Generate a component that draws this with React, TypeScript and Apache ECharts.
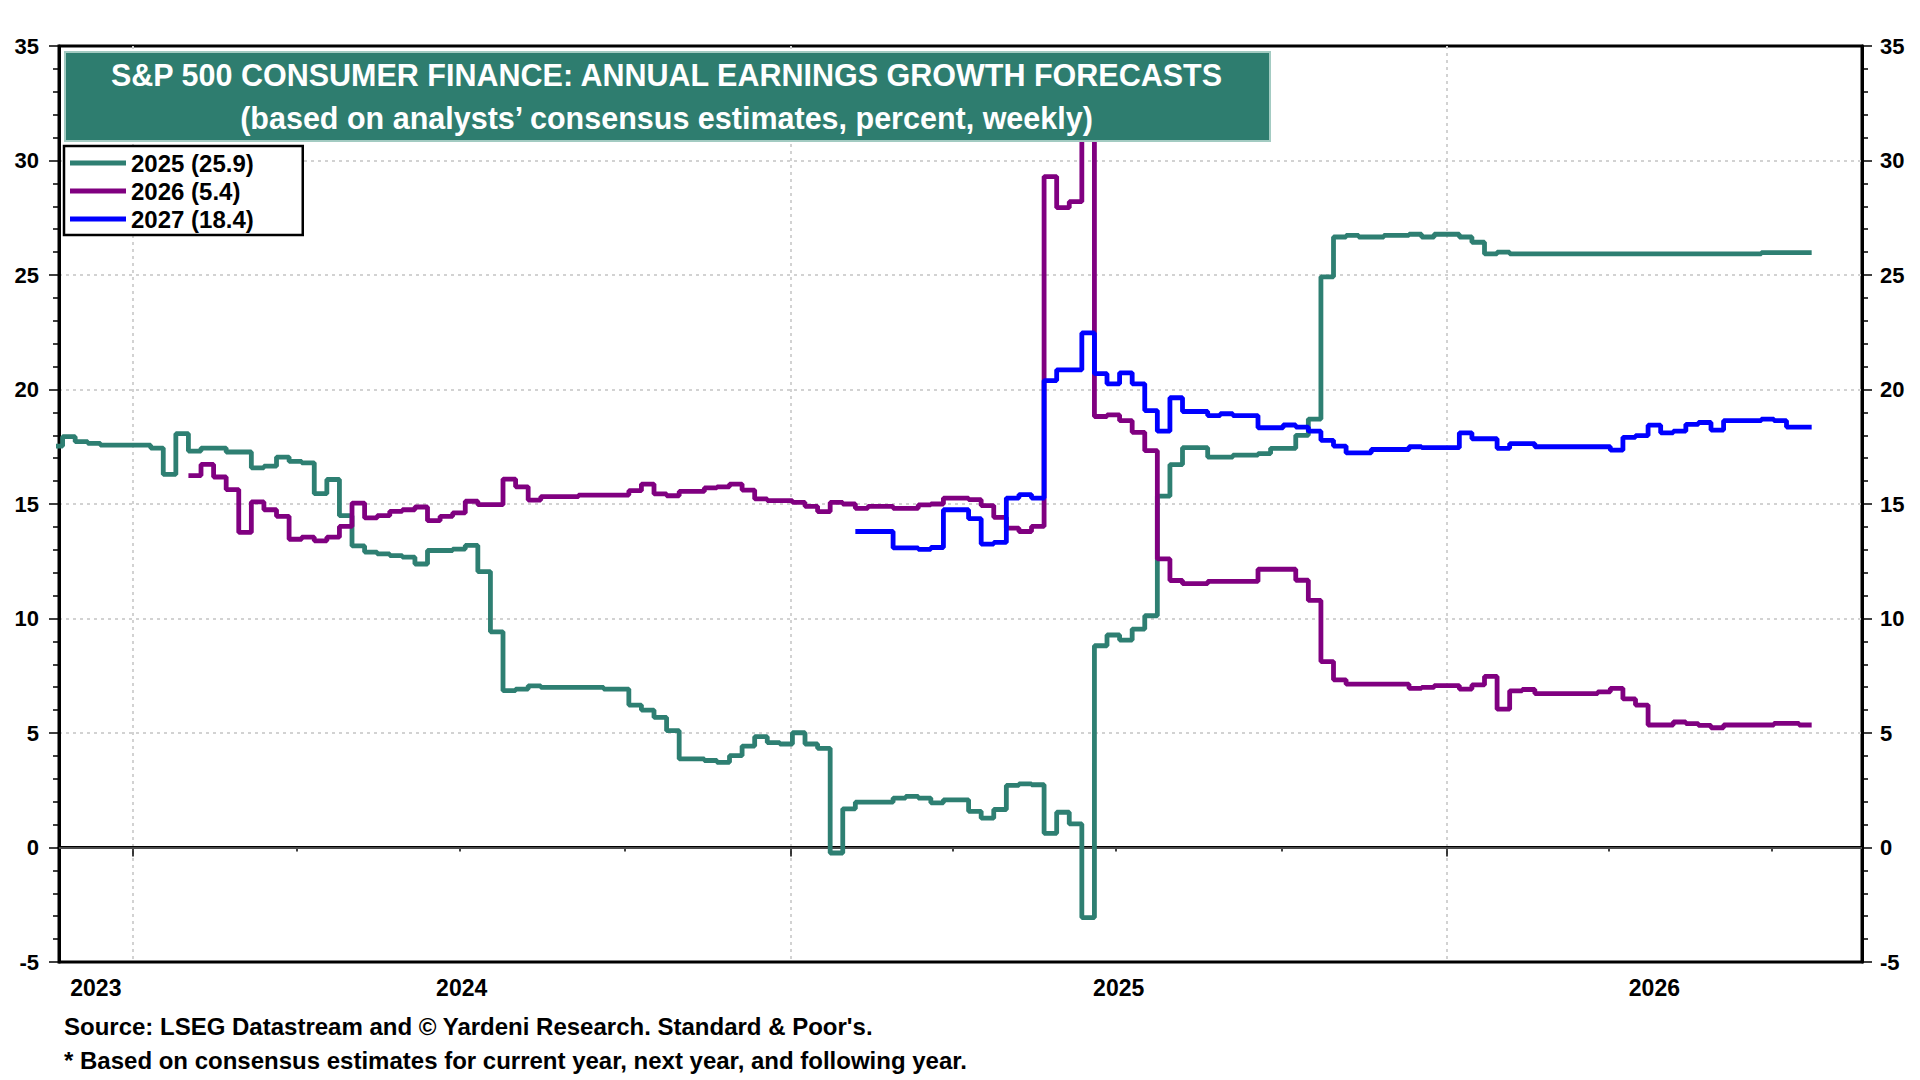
import React, { useEffect, useRef } from "react";
import * as echarts from "echarts";

// ---------- data (weekly, step values) ----------
const DAY = 86400000;
const WEEK = 7 * DAY;
const weekBase = Date.UTC(2024, 0, 4); // week 0 (Thursday)

const seriesNames = ["2025 (25.9)", "2026 (5.4)", "2027 (18.4)"];
const seriesColors = ["#2e7f72", "#800080", "#0000ff"];

const green2025StartWeek = -7;
const green2025 = [
  17.53, 17.94, 17.72, 17.65, 17.57, 17.57, 17.57, 17.57, 17.44, 16.29,
  18.07, 17.31, 17.44, 17.44, 17.27, 17.27, 16.58, 16.65, 17.05, 16.86,
  16.8, 15.45, 16.07, 14.49, 13.17, 12.9, 12.82, 12.75, 12.68, 12.38,
  12.97, 12.97, 13.03, 13.19, 12.05, 9.42, 6.85, 6.92, 7.06, 6.99,
  6.99, 6.99, 6.99, 6.99, 6.92, 6.92, 6.22, 6.0, 5.68, 5.1,
  3.87, 3.87, 3.8, 3.72, 4.01, 4.43, 4.84, 4.58, 4.52, 5.01,
  4.52, 4.33, -0.24, 1.69, 1.98, 1.98, 1.98, 2.16, 2.23, 2.16,
  1.95, 2.08, 2.08, 1.58, 1.28, 1.66, 2.71, 2.78, 2.74, 0.62,
  1.54, 1.03, -3.06, 8.81, 9.28, 9.06, 9.54, 10.12, 15.34, 16.72,
  17.46, 17.46, 17.05, 17.05, 17.13, 17.13, 17.2, 17.43, 17.43, 18.0,
  18.71, 24.92, 26.66, 26.73, 26.66, 26.66, 26.73, 26.73, 26.78, 26.66,
  26.78, 26.78, 26.66, 26.43, 25.92, 26.0, 25.92, 25.92, 25.92, 25.92,
  25.92, 25.92, 25.92, 25.92, 25.92, 25.92, 25.92, 25.92, 25.92, 25.92,
  25.92, 25.92, 25.92, 25.92, 25.92, 25.92, 25.98, 25.98, 25.98, 25.98,
  25.98,
];

const purple2026StartWeek = 4;
const purple2026 = [
  16.24, 16.73, 16.18, 15.63, 13.76, 15.09, 14.75, 14.46, 13.46, 13.55,
  13.39, 13.55, 14.02, 15.04, 14.39, 14.49, 14.68, 14.75, 14.87, 14.27,
  14.46, 14.61, 15.12, 14.97, 14.97, 16.09, 15.75, 15.17, 15.32, 15.32,
  15.32, 15.39, 15.39, 15.39, 15.39, 15.58, 15.87, 15.44, 15.36, 15.55,
  15.55, 15.7, 15.75, 15.87, 15.61, 15.22, 15.15, 15.15, 15.07, 14.9,
  14.67, 15.07, 15.0, 14.81, 14.9, 14.9, 14.81, 14.81, 14.96, 15.0,
  15.26, 15.26, 15.19, 14.93, 14.42, 13.95, 13.8, 14.02, 29.3, 27.94,
  28.2, 33.0, 18.82, 18.89, 18.64, 18.13, 17.33, 12.6, 11.66, 11.52,
  11.52, 11.62, 11.62, 11.62, 11.62, 12.15, 12.15, 12.15, 11.67, 10.79,
  8.12, 7.32, 7.13, 7.13, 7.13, 7.13, 7.13, 6.95, 6.99, 7.07,
  7.07, 6.92, 7.1, 7.47, 6.04, 6.84, 6.9, 6.72, 6.72, 6.72,
  6.72, 6.72, 6.8, 6.95, 6.49, 6.22, 5.35, 5.35, 5.48, 5.41,
  5.33, 5.23, 5.35, 5.35, 5.35, 5.35, 5.42, 5.42, 5.35, 5.35,
];

const blue2027StartWeek = 57;
const blue2027 = [
  13.8, 13.8, 13.8, 13.08, 13.08, 13.02, 13.1, 14.75, 14.75, 14.36,
  13.25, 13.32, 15.26, 15.41, 15.26, 20.39, 20.86, 20.86, 22.47, 20.69,
  20.25, 20.73, 20.25, 19.08, 18.18, 19.64, 19.04, 19.04, 18.86, 18.94,
  18.86, 18.86, 18.33, 18.33, 18.45, 18.36, 18.18, 17.78, 17.53, 17.23,
  17.23, 17.38, 17.38, 17.38, 17.5, 17.46, 17.46, 17.46, 18.11, 17.85,
  17.85, 17.43, 17.64, 17.64, 17.5, 17.5, 17.5, 17.5, 17.5, 17.5,
  17.35, 17.91, 17.99, 18.44, 18.11, 18.18, 18.48, 18.56, 18.23, 18.64,
  18.64, 18.64, 18.71, 18.64, 18.36, 18.36, 18.36,
];

// ---------- axes ----------
const axisMin = Date.UTC(2023, 10, 21);
const axisMax = Date.UTC(2026, 7, 20);
const yearStarts = [Date.UTC(2024, 0, 1), Date.UTC(2025, 0, 1), Date.UTC(2026, 0, 1)];
const quarterStarts = [
  Date.UTC(2024, 3, 1), Date.UTC(2024, 6, 1), Date.UTC(2024, 9, 1),
  Date.UTC(2025, 3, 1), Date.UTC(2025, 6, 1), Date.UTC(2025, 9, 1),
  Date.UTC(2026, 3, 1), Date.UTC(2026, 6, 1),
];
// year labels sit in the middle of the visible part of each year
const yearLabelPositions = [
  (axisMin + yearStarts[0]) / 2,
  (yearStarts[0] + yearStarts[1]) / 2,
  (yearStarts[1] + yearStarts[2]) / 2,
  (yearStarts[2] + axisMax) / 2,
];
const yMin = -5;
const yMax = 35;
const yInterval = 5;

const titleLines = [
  "S&P 500 CONSUMER FINANCE: ANNUAL EARNINGS GROWTH FORECASTS",
  "(based on analysts\u2019 consensus estimates, percent, weekly)",
];
const footnotes = [
  "Source: LSEG Datastream and \u00a9 Yardeni Research. Standard & Poor's.",
  "* Based on consensus estimates for current year, next year, and following year.",
];

const FONT = '"Liberation Sans", Arial, Helvetica, sans-serif';

function toData(startWeek: number, values: number[]) {
  return values.map((v, i) => [weekBase + (startWeek + i) * WEEK, v]);
}

function yAxisDef(position: "left" | "right", withSplit: boolean) {
  return {
    type: "value",
    position,
    min: yMin,
    max: yMax,
    interval: yInterval,
    axisLine: { show: true, lineStyle: { color: "#000", width: 3 } },
    axisTick: { show: true, inside: false, length: 10, lineStyle: { color: "#000", width: 1.5 } },
    minorTick: { show: true, splitNumber: 5, length: 6, lineStyle: { color: "#000", width: 1.5 } },
    axisLabel: {
      fontSize: 22,
      fontWeight: "bold",
      color: "#000",
      fontFamily: FONT,
      margin: position === "left" ? 20 : 18,
    },
    splitLine: {
      show: withSplit,
      showMinLine: false,
      showMaxLine: false,
      lineStyle: { color: "#d2d2d2", width: 2, type: [3, 4] },
    },
  };
}

function textEl(text: string, x: number, y: number, size: number, fill: string, align: string) {
  return {
    type: "text",
    z: 11,
    x,
    y,
    style: {
      text,
      fill,
      font: `bold ${size}px ${FONT}`,
      textAlign: align,
      textVerticalAlign: "middle",
      align,
      verticalAlign: "middle",
    },
  };
}

export default function App() {
  const ref = useRef<HTMLDivElement>(null);

  useEffect(() => {
    if (!ref.current) return;
    const chart = echarts.init(ref.current, undefined, { renderer: "svg" });
    const seriesData = [
      toData(green2025StartWeek, green2025),
      toData(purple2026StartWeek, purple2026),
      toData(blue2027StartWeek, blue2027),
    ];

    const option: any = {
      animation: false,
      backgroundColor: "#fff",
      textStyle: { fontFamily: FONT },
      grid: {
        left: 59,
        right: 58,
        top: 46,
        bottom: 118,
        show: true,
        borderColor: "#000",
        borderWidth: 3,
        backgroundColor: "transparent",
      },
      legend: {
        orient: "vertical",
        left: 64,
        top: 146,
        data: seriesNames,
        icon: "rect",
        itemWidth: 56,
        itemHeight: 5,
        itemGap: 4,
        itemTextGap: 11,
        padding: [5, 49, 4, 6],
        backgroundColor: "#fff",
        borderColor: "#000",
        borderWidth: 2.5,
        selectedMode: false,
        textStyle: { fontSize: 24, fontWeight: "bold", color: "#000", fontFamily: FONT },
      },
      xAxis: [
        {
          type: "value",
          min: axisMin,
          max: axisMax,
          position: "bottom",
          axisLine: { show: true, lineStyle: { color: "#000", width: 3 } },
          axisTick: {
            show: true,
            inside: false,
            customValues: quarterStarts,
            length: 4,
            lineStyle: { color: "#000", width: 1.5 },
          },
          splitLine: { show: false },
          axisLabel: {
            show: true,
            customValues: yearLabelPositions,
            formatter: (v: number) => String(new Date(v).getUTCFullYear()),
            fontSize: 23,
            fontWeight: "bold",
            color: "#000",
            fontFamily: FONT,
            margin: 14,
          },
        },
        {
          type: "value",
          min: axisMin,
          max: axisMax,
          position: "bottom",
          axisLine: { show: false },
          axisTick: {
            show: true,
            inside: false,
            customValues: yearStarts,
            length: 9,
            lineStyle: { color: "#000", width: 1.5 },
          },
          splitLine: { show: true, lineStyle: { color: "#d2d2d2", width: 2, type: [3, 4] } },
          axisLabel: { show: false },
        },
      ],
      yAxis: [yAxisDef("left", true), yAxisDef("right", false)],
      series: seriesNames.map((name, i) => ({
        name,
        type: "line",
        xAxisIndex: 0,
        yAxisIndex: 0,
        step: "end",
        showSymbol: false,
        symbol: "none",
        clip: true,
        data: seriesData[i],
        lineStyle: { color: seriesColors[i], width: 4.8 },
        itemStyle: { color: seriesColors[i] },
        emphasis: { disabled: true },
        z: 2 + i,
        markLine:
          i === 0
            ? {
                silent: true,
                symbol: ["none", "none"],
                label: { show: false },
                lineStyle: { color: "#666", width: 1.5, type: "solid" },
                data: [{ yAxis: 0 }],
                z: 1,
              }
            : undefined,
      })),
      graphic: {
        elements: [
          {
            type: "rect",
            z: 10,
            left: 64,
            top: 51,
            shape: { x: 0, y: 0, width: 1205, height: 89 },
            style: { fill: "#2e7d6f", stroke: "#a3cbc2", lineWidth: 2 },
          },
          textEl(titleLines[0], 666.5, 75, 30.5, "#fff", "center"),
          textEl(titleLines[1], 666.5, 117.5, 30.5, "#fff", "center"),
          textEl(footnotes[0], 64, 1026, 24, "#000", "left"),
          textEl(footnotes[1], 64, 1060, 24, "#000", "left"),
        ],
      },
    };

    chart.setOption(option);
    return () => {
      chart.dispose();
    };
  }, []);

  return (
    <div
      ref={ref}
      style={{ position: "fixed", left: 0, top: 0, width: 1920, height: 1080, background: "#fff" }}
    />
  );
}
